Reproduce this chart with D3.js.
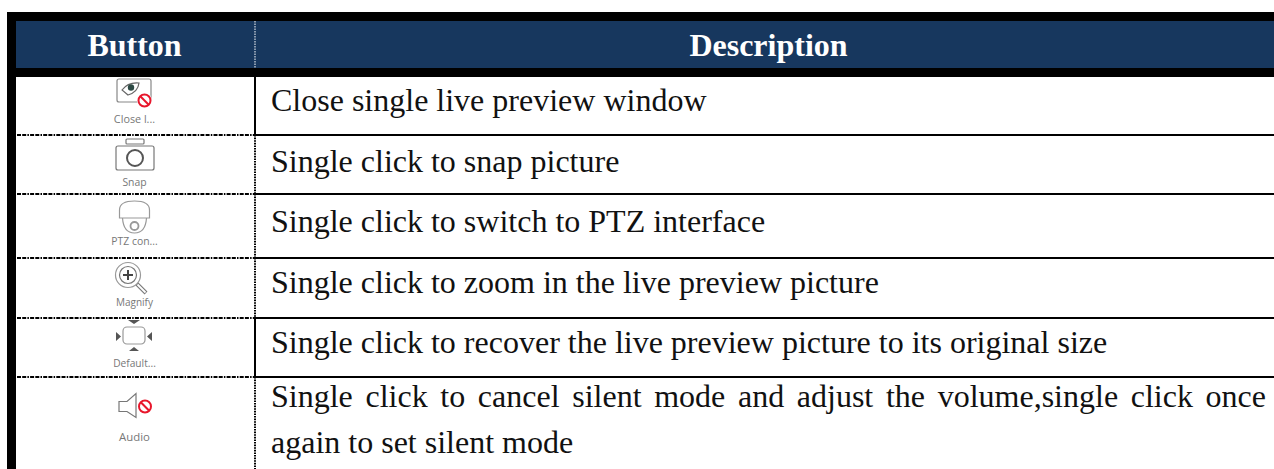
<!DOCTYPE html>
<html>
<head>
<meta charset="utf-8">
<script src="https://cdn.jsdelivr.net/npm/d3@7"></script>
<style>
  html, body { margin: 0; padding: 0; background: #fff; overflow: hidden; }
  svg { display: block; }
  .desc { font-family: "Liberation Serif", serif; font-size: 32px; fill: #111; }
  .head { font-family: "Liberation Serif", serif; font-size: 32px; font-weight: bold; fill: #fff; }
  .cap { font-family: "Open Sans", sans-serif; fill: #777; }
</style>
</head>
<body>
<svg></svg>
<script>
var columns = ["Button", "Description"];
var buttons = ["Close l...", "Snap", "PTZ con...", "Magnify", "Default...", "Audio"];
var descriptions = [
  ["Close single live preview window"],
  ["Single click to snap picture"],
  ["Single click to switch to PTZ interface"],
  ["Single click to zoom in the live preview picture"],
  ["Single click to recover the live preview picture to its original size"],
  ["Single click to cancel silent mode and adjust the volume,single click once", "again to set silent mode"]
];

var width = 1274, height = 469;
var navy = "#17375e";
var rowTops = [77, 135, 194, 258, 318, 377, 469]; // pixel edges of the rows
var divX = 255, capX = 134.5, textX = 271, rightX = 1266;

var svg = d3.select("svg").attr("width", width).attr("height", height);

// black frame, header
svg.append("rect").attr("x", 7).attr("y", 12).attr("width", width - 7).attr("height", 65).attr("fill", "#000");
svg.append("rect").attr("x", 7).attr("y", 12).attr("width", 9).attr("height", height - 12).attr("fill", "#000");
svg.append("rect").attr("x", 16).attr("y", 21).attr("width", width - 16).attr("height", 47).attr("fill", navy);
svg.append("line").attr("x1", divX).attr("x2", divX).attr("y1", 21).attr("y2", 68)
  .attr("stroke", "#fff").attr("stroke-width", 1).attr("stroke-dasharray", "1.5 1");

svg.selectAll("text.head").data(columns).enter().append("text")
  .attr("class", "head")
  .attr("x", (d, i) => i == 0 ? capX : 768.5)
  .attr("y", 56)
  .attr("text-anchor", "middle")
  .text(d => d);

// row borders
var rows = d3.range(buttons.length);
svg.selectAll("line.h1").data(rows.slice(0, -1)).enter().append("line")
  .attr("x1", 17).attr("x2", divX)
  .attr("y1", i => rowTops[i + 1]).attr("y2", i => rowTops[i + 1])
  .attr("stroke", "#000").attr("stroke-width", 2).attr("stroke-dasharray", "4 1.2 4 1.2 1.5 1.2");
svg.selectAll("line.h2").data(rows.slice(0, -1)).enter().append("line")
  .attr("x1", divX).attr("x2", width)
  .attr("y1", i => rowTops[i + 1]).attr("y2", i => rowTops[i + 1])
  .attr("stroke", "#000").attr("stroke-width", 2);
svg.selectAll("line.v").data(rows).enter().append("line")
  .attr("x1", divX).attr("x2", divX)
  .attr("y1", i => rowTops[i]).attr("y2", i => rowTops[i + 1])
  .attr("stroke", "#000")
  .attr("stroke-width", 2)
  .attr("stroke-dasharray", i => (i == 0 || i == 4) ? null : "1.6 1");

// captions and description text
var capY = [123, 186, 245, 306, 367, 441];
var capSize = [10.8, 10.4, 10.4, 10, 10.2, 11.4];
svg.selectAll("text.cap").data(buttons).enter().append("text")
  .attr("class", "cap")
  .attr("x", capX)
  .attr("y", (d, i) => capY[i])
  .attr("font-size", (d, i) => capSize[i])
  .attr("text-anchor", "middle")
  .text(d => d);

var lineY = [[111], [172], [232], [293], [353], [407, 453]];
descriptions.forEach(function(lines, r) {
  lines.forEach(function(line, l) {
    var t = svg.append("text").attr("class", "desc").attr("x", textX).attr("y", lineY[r][l]).text(line);
    // first line of the last row is justified
    if (r == 5 && l == 0) {
      var extra = rightX - textX - t.node().getComputedTextLength();
      t.attr("word-spacing", extra / (line.split(" ").length - 1));
    }
  });
});

// icons
var grey = "#777", red = "#e8172c";
function icon(cx, cy) { return svg.append("g").attr("transform", `translate(${cx},${cy})`).attr("fill", "none").attr("stroke", grey).attr("stroke-width", 1.2); }
function noSign(g, x, y, r) {
  g.append("circle").attr("cx", x).attr("cy", y).attr("r", r).attr("stroke", red).attr("stroke-width", 2);
  g.append("line").attr("x1", x - r * 0.7).attr("y1", y - r * 0.7).attr("x2", x + r * 0.7).attr("y2", y + r * 0.7).attr("stroke", red).attr("stroke-width", 2);
}

// close live
var g = icon(134, 91);
g.append("rect").attr("x", -17).attr("y", -12).attr("width", 34).attr("height", 23).attr("rx", 2).attr("stroke", "#888");
g.append("path").attr("d", "M-12,-1 Q-6,-9 5,-8 Q4,1 -6,4 Z").attr("stroke", "#666");
g.append("circle").attr("cx", -3).attr("cy", -3.5).attr("r", 3.2).attr("fill", "#2d4a44").attr("stroke", "none");
g.append("circle").attr("cx", 10.5).attr("cy", 9.5).attr("r", 7.5).attr("fill", "#fff").attr("stroke", "none");
noSign(g, 10.5, 9.5, 6);

// snap
g = icon(135, 156);
g.append("rect").attr("x", -9).attr("y", -17).attr("width", 18).attr("height", 5).attr("rx", 1);
g.append("rect").attr("x", -19).attr("y", -10).attr("width", 38).attr("height", 24).attr("rx", 2);
g.append("circle").attr("cx", 0).attr("cy", 2).attr("r", 8).attr("stroke", "#555").attr("stroke-width", 2);

// ptz
g = icon(134.5, 218);
g.append("path").attr("d", "M-15,0 L-15,-8 Q-15,-17 0,-17 Q15,-17 15,-8 L15,0 Z").attr("stroke", "#999");
g.append("path").attr("d", "M-12,0 Q-11,15 0,15 Q11,15 12,0").attr("stroke", "#999");
g.append("circle").attr("cx", 0).attr("cy", 8).attr("r", 4).attr("stroke", "#999").attr("stroke-width", 1.8);

// magnify
g = icon(128, 275);
g.append("circle").attr("r", 12.5).attr("stroke", "#999");
g.append("circle").attr("r", 8.5);
g.append("path").attr("d", "M-5,0H5M0,-5V5").attr("stroke", "#444").attr("stroke-width", 2);
g.append("path").attr("d", "M9,9 L18,18").attr("stroke-width", 4);
g.append("path").attr("d", "M9.5,9.5 L17.5,17.5").attr("stroke", "#fff").attr("stroke-width", 1.8);

// default
g = icon(134, 336);
g.append("rect").attr("x", -11).attr("y", -9).attr("width", 22).attr("height", 17).attr("rx", 4).attr("stroke", "#999");
g.append("path").attr("d", "M-6,-16H6L0,-12Z M-5,15H5L0,11Z M-18,-4V5L-13,0.5Z M18,-4V5L13,0.5Z").attr("fill", "#555").attr("stroke", "none");

// audio
g = icon(134, 406.5);
g.append("path").attr("d", "M-15,-5 H-7 L2,-13 V11 L-7,5 H-15 Z");
noSign(g, 11, 0, 6);
</script>
</body>
</html>
